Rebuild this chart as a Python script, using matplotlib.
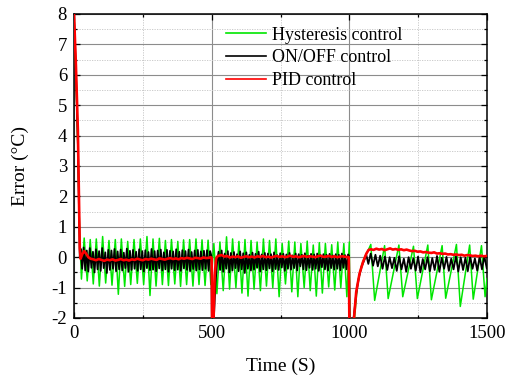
import numpy as np
import matplotlib
matplotlib.use('Agg')
import matplotlib.pyplot as plt
from matplotlib.ticker import MultipleLocator

plt.rcParams['font.family'] = ['Liberation Serif', 'DejaVu Serif']
plt.rcParams['axes.unicode_minus'] = False  # 负号用普通连字符

# 滞环控制: 峰/谷顶点 (时间 s, 误差 °C)
hyst_t = [0, 7, 14, 20, 27,
          37, 48, 59, 70, 81, 92, 104, 115, 127, 138, 150, 161, 172, 184, 195, 206,
          218, 230, 241, 253, 265, 276, 287, 298, 310, 321, 332, 343, 354, 366, 377,
          387, 398, 409, 420, 432, 443, 454, 465, 476, 487, 497,
          508, 519, 530, 542, 554, 565, 576, 588, 599, 610, 621, 632, 643, 654, 665,
          677, 688, 699, 710, 722, 733, 745, 756, 768, 780, 791, 802, 813, 824, 836,
          847, 858, 869, 880, 891, 902, 913, 925, 936, 947, 958, 969, 980, 991, 1000,
          1003, 1017, 1030, 1045, 1058, 1067, 1078, 1092, 1128, 1141, 1180, 1194,
          1233, 1247, 1285, 1298, 1337, 1350, 1389, 1403, 1437, 1450, 1480, 1493, 1500]
hyst_v = [8.0, 6.0, 3.6, 0.9, -0.72,
          0.63, -0.78, 0.58, -0.88, 0.6, -0.95, 0.68, -0.85, 0.55, -0.92, 0.58, -1.22,
          0.6, -0.96, 0.52, -0.9, 0.58, -0.86, 0.6, -0.9, 0.68, -1.26, 0.6, -0.95,
          0.62, -0.9, 0.55, -0.93, 0.58, -0.88, 0.52, -0.96, 0.57, -0.9, 0.58, -0.95,
          0.6, -0.9, 0.57, -0.93, 0.56, -0.9,
          0.45, -1.2, 0.5, -1.1, 0.67, -1.05, 0.6, -1.0, 0.52, -1.18, 0.58, -1.28,
          0.55, -1.05, 0.5, -1.1, 0.6, -0.95, 0.55, -1.0, 0.6, -1.3, 0.45, -0.88,
          0.53, -1.14, 0.5, -1.3, 0.45, -1.0, 0.53, -1.1, 0.4, -1.28, 0.48, -1.18,
          0.45, -0.98, 0.41, -1.08, 0.5, -1.0, 0.45, -1.3, 0.5,
          -4.0, -2.2, -0.85, -0.25, 0.05, 0.2, 0.42, -1.42, 0.38, -1.36, 0.4, -1.3,
          0.36, -1.36, 0.4, -1.4, 0.38, -1.35, 0.42, -1.62, 0.4, -1.38, 0.38, -1.3, -0.7]

# ON/OFF控制: 扰动段顶点 + 定采样间隔记录段
onoff_jump_t = [[0, 7, 14, 18, 21],
                [499, 502, 508, 514, 520],
                [999, 1003, 1015, 1025, 1035, 1045, 1055, 1062]]
onoff_jump_v = [[8.0, 6.1, 3.8, 1.5, 0.0],
                [0.05, -4.0, -2.0, -0.85, -0.15],
                [0.05, -4.0, -2.05, -1.2, -0.65, -0.3, -0.08, 0.06]]
onoff_log_start = [24, 525, 1069]
onoff_log_dt = [5.6, 5.6, 8.6]
onoff_log1 = [0.28, -0.38, 0.32, -0.44, 0.22, -0.47, 0.3, -0.35, 0.18, -0.5, 0.26, -0.4,
              0.2, -0.45, 0.3, -0.36, 0.16, -0.52, 0.24, -0.42, 0.22, -0.38, 0.27, -0.46,
              0.19, -0.4, 0.25, -0.44, 0.15, -0.36, 0.28, -0.48, 0.21, -0.42, 0.24, -0.38,
              0.18, -0.45, 0.26, -0.4, 0.2, -0.47, 0.23, -0.36, 0.17, -0.43, 0.27, -0.41,
              0.2, -0.46, 0.22, -0.37, 0.25, -0.44, 0.16, -0.4, 0.24, -0.48, 0.21, -0.38,
              0.19, -0.43, 0.26, -0.41, 0.18, -0.45, 0.23, -0.37, 0.2, -0.42, 0.25, -0.46,
              0.17, -0.39, 0.22, -0.44, 0.24, -0.4, 0.19, -0.43, 0.21, -0.38, 0.23, -0.45,
              0.2]
onoff_log2 = [0.18, -0.42, 0.22, -0.48, 0.12, -0.38, 0.2, -0.5, 0.14, -0.44, 0.17, -0.36,
              0.1, -0.46, 0.19, -0.4, 0.13, -0.52, 0.16, -0.38, 0.08, -0.44, 0.15, -0.41,
              0.11, -0.35, 0.18, -0.47, 0.09, -0.4, 0.14, -0.43, 0.12, -0.37, 0.1, -0.46,
              0.16, -0.39, 0.07, -0.42, 0.13, -0.34, 0.11, -0.45, 0.09, -0.38, 0.14, -0.41,
              0.06, -0.36, 0.12, -0.44, 0.1, -0.3, 0.08, -0.4, 0.13, -0.43, 0.05, -0.35,
              0.11, -0.42, 0.09, -0.38, 0.12, -0.45, 0.07, -0.33, 0.1, -0.4, 0.08, -0.44,
              0.11, -0.36, 0.06, -0.41, 0.1, -0.38, 0.08, -0.43, 0.12, -0.35, 0.07, -0.4,
              0.09]
onoff_log3 = [-0.22, 0.12, -0.28, 0.08, -0.3, 0.05, -0.38, 0.02, -0.42, 0.0,
              -0.36, -0.02, -0.45, 0.03, -0.4, -0.05, -0.48, 0.0, -0.38, -0.04,
              -0.44, 0.02, -0.5, -0.06, -0.4, 0.0, -0.46, -0.03, -0.42, 0.04,
              -0.48, -0.02, -0.38, 0.01, -0.45, -0.05, -0.4, 0.03, -0.47, 0.0,
              -0.42, -0.02, -0.46, 0.02, -0.38, -0.04, -0.44, 0.01, -0.4, 0.03,
              -0.36]

# PID控制
pid_jump_t = [[0, 7, 14, 18, 21, 24, 30, 37, 44, 52, 60],
              [496, 500, 503, 507, 511, 516, 520],
              [993, 998, 1002, 1017, 1025, 1037, 1050, 1062, 1070]]
pid_jump_v = [[8.0, 6.3, 4.2, 2.0, 0.3, -0.05, 0.1, 0.2, 0.12, 0.0, -0.05],
              [0.0, -0.02, -4.0, -2.0, -0.6, -0.05, 0.02],
              [0.01, 0.0, -4.0, -2.0, -1.14, -0.54, -0.15, 0.12, 0.24]]
pid_log_start = [70, 526, 1078]
pid_log_dt = [10, 10, 10]
pid_log1 = [-0.07, -0.1, -0.06, -0.09, -0.12, -0.08, -0.1, -0.07, -0.11, -0.09,
            -0.06, -0.1, -0.08, -0.11, -0.07, -0.09, -0.05, -0.08, -0.1, -0.06,
            -0.08, -0.05, -0.07, -0.09, -0.04, -0.06, -0.08, -0.05, -0.03, -0.06,
            -0.04, -0.07, -0.03, -0.05, -0.02, -0.04, -0.06, -0.02, -0.03, -0.05,
            -0.01, -0.03, -0.02]
pid_log2 = [0.05, 0.07, 0.02, 0.04, -0.01, 0.02, 0.0, 0.03, -0.02, 0.01,
            0.03, 0.0, 0.02, -0.01, 0.03, 0.01, 0.04, 0.0, 0.02, -0.01,
            0.02, 0.04, 0.01, 0.03, 0.0, 0.02, 0.05, 0.01, 0.03, 0.0,
            0.02, 0.04, 0.01, 0.03, 0.02, 0.0, 0.03, 0.05, 0.01, 0.02,
            0.04, 0.01, 0.03, 0.0, 0.02, 0.03, 0.01]
pid_log3 = [0.26, 0.24, 0.28, 0.25, 0.27, 0.23, 0.26, 0.29, 0.25, 0.27,
            0.24, 0.26, 0.23, 0.25, 0.22, 0.2, 0.21, 0.18, 0.19, 0.16,
            0.17, 0.15, 0.14, 0.16, 0.12, 0.13, 0.11, 0.12, 0.09, 0.1,
            0.08, 0.09, 0.07, 0.08, 0.05, 0.07, 0.06, 0.04, 0.05, 0.03,
            0.05, 0.03, 0.04]

labels = ['Hysteresis control', 'ON/OFF control', 'PID control']


def join_series(jump_t, jump_v, starts, dts, logs):
    # 把扰动段和记录段按时间顺序拼起来
    ts, vs = [], []
    for jt, jv, t0, dt, lv in zip(jump_t, jump_v, starts, dts, logs):
        ts.append(np.asarray(jt, float))
        vs.append(np.asarray(jv, float))
        ts.append(t0 + dt * np.arange(len(lv)))
        vs.append(np.asarray(lv, float))
    return np.concatenate(ts), np.concatenate(vs)


onoff_t, onoff_v = join_series(onoff_jump_t, onoff_jump_v, onoff_log_start,
                               onoff_log_dt, [onoff_log1, onoff_log2, onoff_log3])
pid_t, pid_v = join_series(pid_jump_t, pid_jump_v, pid_log_start,
                           pid_log_dt, [pid_log1, pid_log2, pid_log3])

fig = plt.figure(figsize=(5.09, 3.80), dpi=100)
ax = fig.add_axes([74 / 509, 62 / 380, 413 / 509, 304 / 380])

ax.plot(hyst_t, hyst_v, color='#00e600', lw=1.1, label=labels[0], zorder=3)
ax.plot(onoff_t, onoff_v, color='black', lw=1.3, label=labels[1], zorder=4)
ax.plot(pid_t, pid_v, color='red', lw=1.9, label=labels[2], zorder=5)

ax.set_xlim(0, 1500)
ax.set_ylim(-2, 8)
ax.xaxis.set_major_locator(MultipleLocator(500))
ax.xaxis.set_minor_locator(MultipleLocator(250))
ax.yaxis.set_major_locator(MultipleLocator(1))
ax.yaxis.set_minor_locator(MultipleLocator(0.5))

ax.grid(True, which='major', color='#8c8c8c', lw=0.8, ls='-', zorder=0)
ax.grid(True, which='minor', color='#c4c4c4', lw=0.6, ls=(0, (1.5, 1.5)), zorder=0)
ax.set_axisbelow(True)

ax.tick_params(which='both', direction='in', top=True, right=True,
               labelsize=13.5, width=0.9)
ax.tick_params(which='major', length=4, pad=5)
ax.tick_params(which='minor', length=2.5)
for sp in ax.spines.values():
    sp.set_linewidth(1.1)

ax.set_xlabel('Time (S)', fontsize=14)
ax.set_ylabel('Error (°C)', fontsize=14)
ax.xaxis.set_label_coords(0.5, -0.13)
ax.yaxis.set_label_coords(-0.108, 0.5)

leg = ax.legend(loc='upper left', bbox_to_anchor=(0.368, 0.958), frameon=False,
                fontsize=13, handlelength=2.2, handletextpad=0.33, labelspacing=0.31,
                borderpad=0, borderaxespad=0)
for ln in leg.get_lines():
    ln.set_linewidth(1.2)

fig.savefig('out.png', dpi=100)
